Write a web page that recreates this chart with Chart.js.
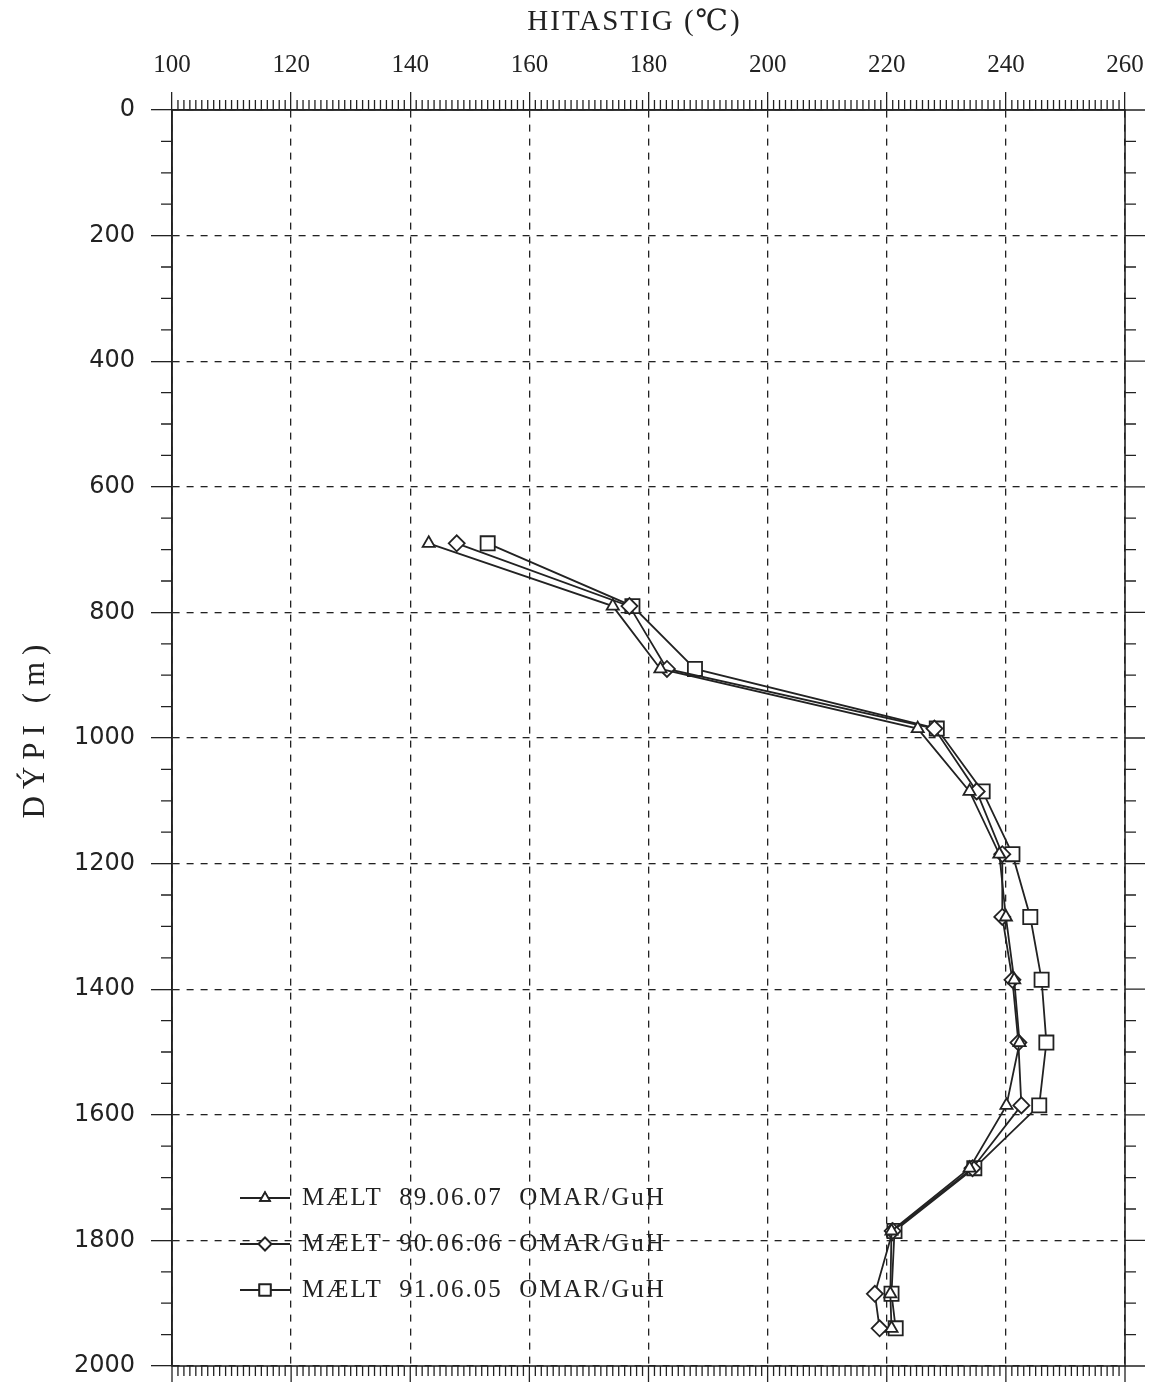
<!DOCTYPE html>
<html>
<head>
<meta charset="utf-8">
<script src="https://cdn.jsdelivr.net/npm/chart.js@4.4.1/dist/chart.umd.min.js"></script>
<style>
  body { margin:0; background:#fff; }
  #wrap { width:1157px; height:1382px; }
</style>
</head>
<body>
<div id="wrap"><canvas id="chart" width="1157" height="1382"></canvas></div>
<script>
// Data
const depths = [690, 790, 890, 985, 1085, 1185, 1285, 1385, 1485, 1585, 1685, 1785, 1885, 1940];
const temp890607 = [143.1, 174.0, 182.0, 225.2, 233.9, 238.9, 240.0, 241.4, 242.3, 240.1, 233.9, 220.8, 220.6, 220.8];
const temp900606 = [147.8, 176.8, 183.1, 228.0, 235.1, 239.4, 239.4, 241.1, 242.1, 242.6, 234.4, 221.0, 218.0, 218.8];
const temp910605 = [153.0, 177.3, 187.8, 228.4, 236.1, 241.1, 244.1, 246.0, 246.8, 245.6, 234.7, 221.3, 220.8, 221.5];
const seriesLabels = ['MÆLT  89.06.07  OMAR/GuH', 'MÆLT  90.06.06  OMAR/GuH', 'MÆLT  91.06.05  OMAR/GuH'];
const markers = ['triangle', 'rectRot', 'rect'];
const xTicks = [100, 120, 140, 160, 180, 200, 220, 240, 260];
const yTicks = [0, 200, 400, 600, 800, 1000, 1200, 1400, 1600, 1800, 2000];
const xTitle = 'HITASTIG (℃)';
const yTitle = 'DÝPI (m)';

const INK = '#222';
const SERIF = '"Liberation Serif", "DejaVu Serif", serif';
const SANS = '"DejaVu Sans", sans-serif';

function toPoints(temps){ return temps.map((t,i)=>({x:t, y:depths[i]})); }

const radius = {triangle: 7, rectRot: 8, rect: 10};
const datasets = [temp890607, temp900606, temp910605].map((temps,i)=>({
  label: seriesLabels[i],
  data: toPoints(temps),
  borderColor: INK,
  borderWidth: 1.8,
  pointStyle: markers[i],
  pointRadius: radius[markers[i]],
  pointBorderColor: INK,
  pointBorderWidth: 1.8,
  pointBackgroundColor: '#fff',
  tension: 0,
  fill: false
}));

// Minor ticks, frame, titles and legend
const extras = {
  id: 'extras',
  afterDraw(chart){
    const {ctx, chartArea:a, scales:{x, y}} = chart;
    ctx.save();
    ctx.strokeStyle = INK;
    ctx.lineWidth = 1.3;
    ctx.beginPath();
    for(let v=100; v<=260; v++){
      const px = x.getPixelForValue(v);
      const major = v % 20 === 0;
      if(!major){ ctx.moveTo(px, a.top-10); ctx.lineTo(px, a.top); }
      ctx.moveTo(px, a.bottom); ctx.lineTo(px, a.bottom + (major ? 16 : 10));
    }
    for(let d=0; d<=2000; d+=50){
      const py = y.getPixelForValue(d);
      const major = d % 200 === 0;
      if(!major){ ctx.moveTo(a.left-11, py); ctx.lineTo(a.left, py); }
      ctx.moveTo(a.right, py); ctx.lineTo(a.right + (major ? 20 : 11), py);
    }
    ctx.stroke();
    ctx.lineWidth = 1.6;
    ctx.strokeRect(a.left, a.top, a.right-a.left, a.bottom-a.top);

    // axis titles
    ctx.fillStyle = INK;
    ctx.textAlign = 'center';
    ctx.textBaseline = 'middle';
    ctx.font = '29px ' + SERIF;
    ctx.letterSpacing = '2px';
    ctx.fillText(xTitle, (a.left+a.right)/2 - 14, 22);
    ctx.save();
    ctx.translate(36, (a.top+a.bottom)/2 - 10);
    ctx.rotate(-Math.PI/2);
    ctx.font = '31px ' + SERIF;
    ctx.letterSpacing = '7px';
    ctx.fillText(yTitle, 0, 0);
    ctx.restore();

    // legend inside the plot
    const lx = a.left + 68, ty = a.bottom - 168;
    ctx.font = '25px ' + SERIF;
    ctx.letterSpacing = '2px';
    ctx.textAlign = 'left';
    chart.data.datasets.forEach((ds,i)=>{
      const yy = ty + i*46;
      ctx.lineWidth = 1.8;
      ctx.beginPath(); ctx.moveTo(lx, yy); ctx.lineTo(lx+50, yy); ctx.stroke();
      ctx.fillStyle = '#fff';
      Chart.helpers.drawPoint(ctx, {pointStyle: ds.pointStyle, radius: ds.pointRadius*0.8, borderWidth: 1.8}, lx+25, yy);
      ctx.fill(); ctx.stroke();
      ctx.fillStyle = INK;
      ctx.fillText(ds.label, lx+62, yy);
    });
    ctx.restore();
  }
};

new Chart(document.getElementById('chart'), {
  type: 'line',
  data: { datasets },
  options: {
    responsive: false,
    animation: false,
    devicePixelRatio: 1,
    layout: { padding: { left: 0, top: 0, right: 32, bottom: 16 } },
    plugins: { legend: { display: false }, tooltip: { enabled: false } },
    scales: {
      x: {
        type: 'linear',
        position: 'top',
        min: 100, max: 260,
        afterFit: s => { s.height = 110; s.paddingLeft = 0; s.paddingRight = 0; },
        afterBuildTicks: s => { s.ticks = xTicks.map(v=>({value:v})); },
        ticks: { color: INK, font: { family: SERIF, size: 25 }, padding: 12, maxRotation: 0, callback: v => String(v) },
        grid: { color: INK, lineWidth: 1.3, tickLength: 18, drawTicks: true },
        border: { display: true, color: INK, width: 1.6, dash: [7, 7] }
      },
      y: {
        type: 'linear',
        reverse: true,
        min: 0, max: 2000,
        afterFit: s => { s.width = 172; s.paddingTop = 0; s.paddingBottom = 0; },
        afterBuildTicks: s => { s.ticks = yTicks.map(v=>({value:v})); },
        ticks: { color: INK, font: { family: SANS, size: 24 }, padding: 16, callback: v => String(v) },
        grid: { color: INK, lineWidth: 1.3, tickLength: 21, drawTicks: true },
        border: { display: true, color: INK, width: 1.6, dash: [7, 7] }
      }
    }
  },
  plugins: [extras]
});
</script>
</body>
</html>
